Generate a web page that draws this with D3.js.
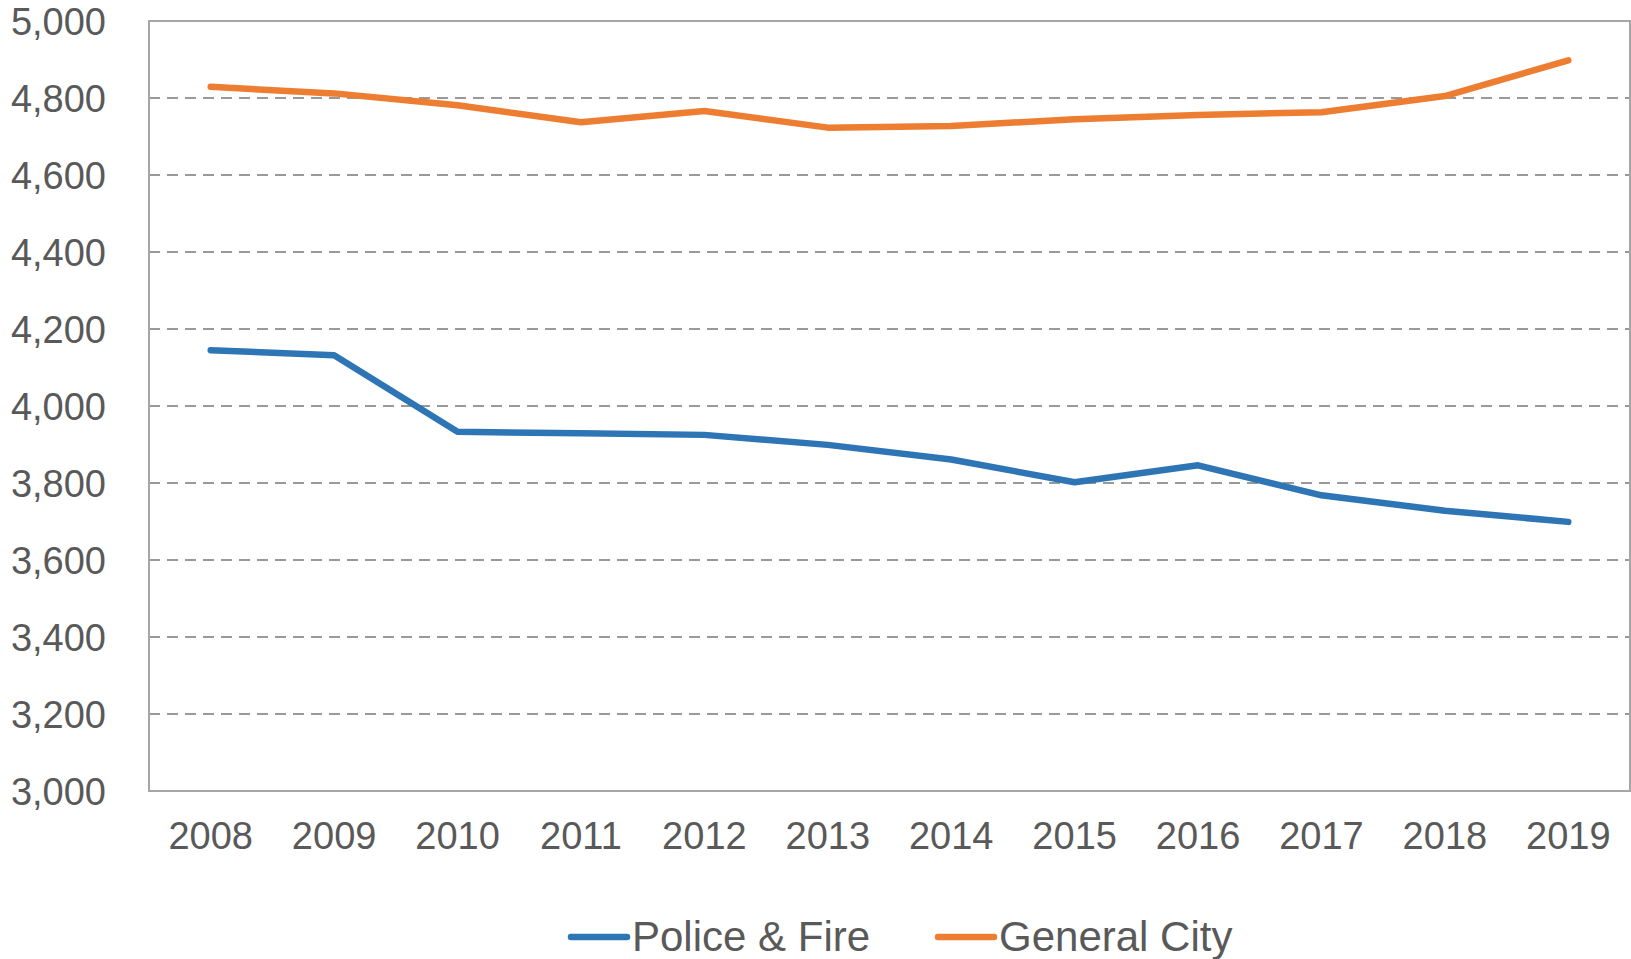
<!DOCTYPE html>
<html>
<head>
<meta charset="utf-8">
<script src="https://cdn.jsdelivr.net/npm/d3@7"></script>
<style>
  body { margin: 0; background: #fff; }
  text { font-family: "Liberation Sans", Arial, sans-serif; fill: #595959; }
</style>
</head>
<body>
<svg id="chart"></svg>
<script>
var years = [2008, 2009, 2010, 2011, 2012, 2013, 2014, 2015, 2016, 2017, 2018, 2019];
var policeFire = [4145, 4132, 3933, 3929, 3925, 3899, 3861, 3802, 3846, 3768, 3728, 3699];
var generalCity = [4829, 4812, 4781, 4737, 4766, 4723, 4727, 4745, 4756, 4763, 4805, 4898];
var yTicks = [3000, 3200, 3400, 3600, 3800, 4000, 4200, 4400, 4600, 4800, 5000];
var seriesNames = ["Police & Fire", "General City"];
var seriesColors = ["#2E75B6", "#ED7D31"];

var w = 1631, h = 959;
var plotL = 149, plotR = 1630, plotT = 21, plotB = 791;

var svg = d3.select("#chart")
    .attr("width", w)
    .attr("height", h);

var x = d3.scaleBand()
    .domain(years)
    .range([plotL, plotR]);
var y = d3.scaleLinear()
    .domain([3000, 5000])
    .range([plotB, plotT]);

// dashed gridlines
svg.append("g").selectAll("line")
    .data(yTicks.slice(1))
    .join("line")
    .attr("x1", plotL).attr("x2", plotR)
    .attr("y1", d => y(d)).attr("y2", d => y(d))
    .attr("stroke", "#999")
    .attr("stroke-width", 2)
    .attr("stroke-dasharray", "11,7");

// plot border
svg.append("rect")
    .attr("x", plotL).attr("y", plotT)
    .attr("width", plotR - plotL).attr("height", plotB - plotT)
    .attr("fill", "none")
    .attr("stroke", "#a6a6a6")
    .attr("stroke-width", 2);

// y axis labels
var yAxis = svg.append("g")
    .attr("transform", `translate(${plotL - 43},0)`)
    .call(d3.axisLeft(y).tickValues(yTicks).tickFormat(d3.format(",")).tickSize(0).tickPadding(0));
yAxis.select(".domain").remove();
yAxis.selectAll("text")
    .attr("x", 0)
    .attr("dy", "0.36em")
    .style("font-size", "38px")
    .style("fill", "#595959")
    .style("font-family", "'Liberation Sans', Arial, sans-serif");

// x axis labels
var xAxis = svg.append("g")
    .attr("transform", `translate(0,${plotB})`)
    .call(d3.axisBottom(x).tickSize(0).tickPadding(0));
xAxis.select(".domain").remove();
xAxis.selectAll("text")
    .attr("y", 58)
    .attr("dy", 0)
    .style("font-size", "38px")
    .style("fill", "#595959")
    .style("font-family", "'Liberation Sans', Arial, sans-serif");

var line = d3.line()
    .x((d, i) => x(years[i]) + x.bandwidth() / 2)
    .y(d => y(d));

[policeFire, generalCity].forEach(function(s, i) {
  svg.append("path")
      .datum(s)
      .attr("d", line)
      .attr("fill", "none")
      .attr("stroke", seriesColors[i])
      .attr("stroke-width", 6.5)
      .attr("stroke-linejoin", "round")
      .attr("stroke-linecap", "round");
});

// legend
var legendX = [571, 938];
var legend = svg.append("g").selectAll("g")
    .data(seriesNames)
    .join("g")
    .attr("transform", (d, i) => `translate(${legendX[i]},937)`);
legend.append("line")
    .attr("x1", 0).attr("x2", 56)
    .attr("stroke", (d, i) => seriesColors[i])
    .attr("stroke-width", 6.5)
    .attr("stroke-linecap", "round");
legend.append("text")
    .attr("x", 61)
    .attr("y", 14)
    .style("font-size", "42px")
    .text(d => d);
</script>
</body>
</html>
